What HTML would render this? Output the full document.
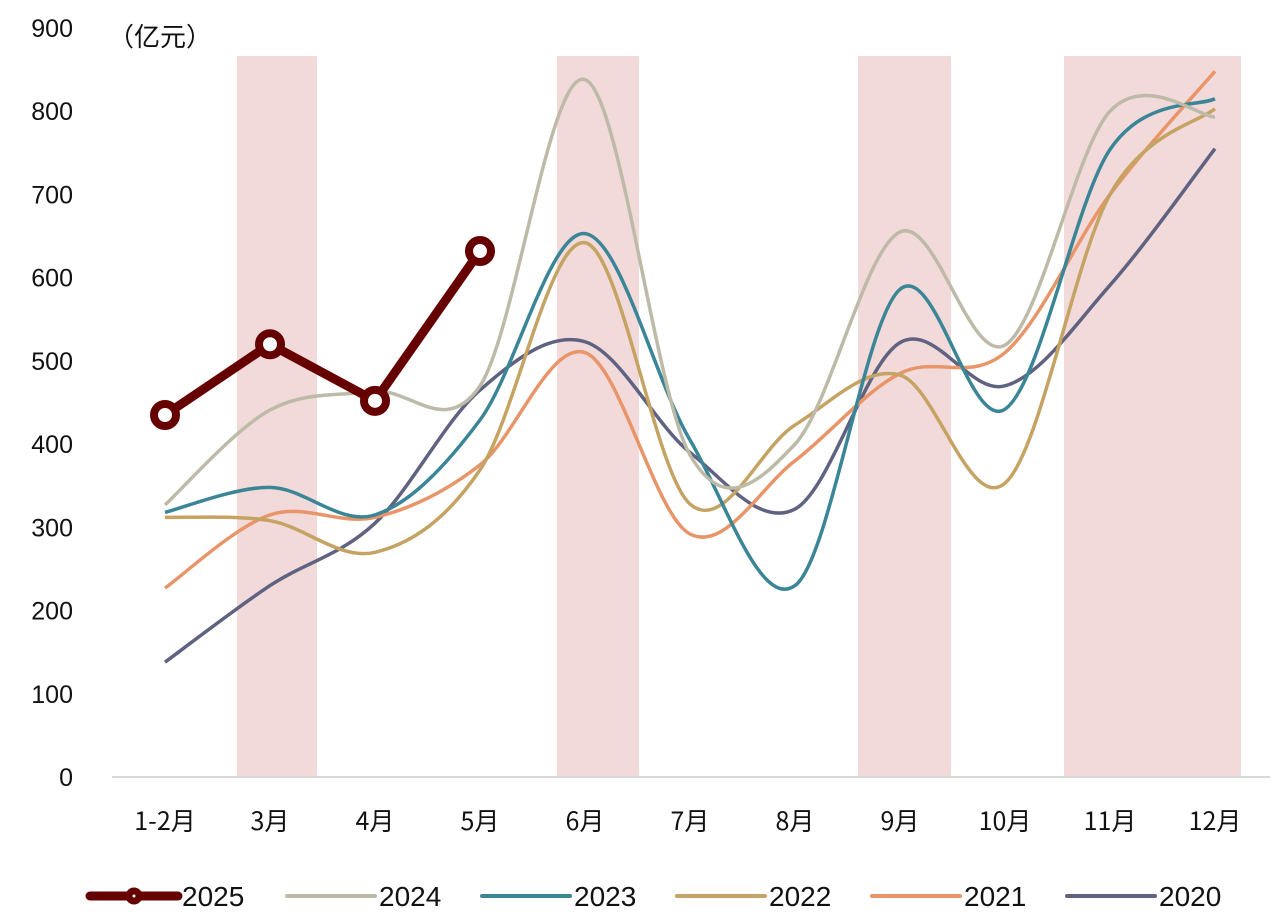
<!DOCTYPE html>
<html><head><meta charset="utf-8"><style>
body{margin:0;background:#fff;}
svg{display:block;font-family:"Liberation Sans","Noto Sans CJK SC",sans-serif;}
</style></head><body>
<svg id="c" width="1278" height="924"></svg>
<script>
const categories=["1-2月","3月","4月","5月","6月","7月","8月","9月","10月","11月","12月"];
const yTicks=[0,100,200,300,400,500,600,700,800,900];
const s2025=[435,520,452,632];
const s2024=[327,441,463,470,838,387,400,655,519,800,793];
const s2023=[318,348,315,429,653,405,230,586,442,754,815];
const s2022=[312,308,270,369,642,328,423,483,353,700,803];
const s2021=[227,315,312,375,510,292,380,485,510,700,848];
const s2020=[138,230,305,465,523,390,322,522,470,591,755];
const series=[
 {name:"2020",data:s2020,color:"#5f6280"},
 {name:"2021",data:s2021,color:"#e8956a"},
 {name:"2022",data:s2022,color:"#c4a363"},
 {name:"2023",data:s2023,color:"#3a8596"},
 {name:"2024",data:s2024,color:"#bdbaa8"}
];
const NS="http://www.w3.org/2000/svg";
const svg=document.getElementById('c');
const x=i=>165+i*105;
const y=v=>777-v*0.8322;
function el(t,a,p){const e=document.createElementNS(NS,t);for(const k in a)e.setAttribute(k,a[k]);(p||svg).appendChild(e);return e;}
[[237,80],[557,82],[858,93],[1064,177]].forEach(r=>{
 const b=el('rect',{x:r[0],y:56,width:r[1],height:721,fill:"#f2dada"});
 
 
});
const ax=el('line',{x1:112,x2:1270,y1:777,y2:777,stroke:"#d9d9d9","stroke-width":2});

yTicks.forEach(v=>{
 const t=el('text',{x:73,y:y(v)+9,"text-anchor":"end","font-size":25,fill:"#111"});t.textContent=v;
 
});
categories.forEach((c,i)=>{
 const t=el('text',{x:x(i),y:830,"text-anchor":"middle","font-size":25,fill:"#111","font-family":"'Noto Sans CJK SC',sans-serif"});t.textContent=c;
 
});
const u=el('text',{x:108,y:46,"font-size":26,fill:"#111","font-family":"'Noto Sans CJK SC',sans-serif"});u.textContent="（亿元）";

function smooth(d){
 const p=d.map((v,i)=>[x(i),y(v)]);let s=`M${p[0][0]},${p[0][1]}`;
 for(let i=0;i<p.length-1;i++){const p0=p[i-1]||p[i],p1=p[i],p2=p[i+1],p3=p[i+2]||p2;const k=1/6;
  s+=`C${p1[0]+(p2[0]-p0[0])*k},${p1[1]+(p2[1]-p0[1])*k} ${p2[0]-(p3[0]-p1[0])*k},${p2[1]-(p3[1]-p1[1])*k} ${p2[0]},${p2[1]}`;}
 return s;
}
series.forEach(s=>{
 const p=el('path',{d:smooth(s.data),fill:"none",stroke:s.color,"stroke-width":3.5});
 
});
const l25=el('polyline',{points:s2025.map((v,i)=>x(i)+','+y(v)).join(' '),fill:"none",stroke:"#660000","stroke-width":9,"stroke-linejoin":"round"});

s2025.forEach((v,i)=>{
 const c=el('circle',{cx:x(i),cy:y(v),r:11,fill:"#fff",stroke:"#660000","stroke-width":8});
 
});
const leg=[{n:"2025",c:"#660000",x:90},{n:"2024",c:"#bdbaa8",x:287},{n:"2023",c:"#3a8596",x:482},{n:"2022",c:"#c4a363",x:677},{n:"2021",c:"#e8956a",x:872},{n:"2020",c:"#5f6280",x:1067}];
leg.forEach((l,i)=>{
 const g=el('g',{});
 el('line',{x1:l.x,x2:l.x+88,y1:896,y2:896,stroke:l.c,"stroke-width":i?4:9,"stroke-linecap":"round"},g);
 if(!i)el('circle',{cx:l.x+44,cy:896,r:8,fill:l.c,stroke:l.c},g);
 if(!i)el('circle',{cx:l.x+44,cy:896,r:1.5,fill:"#fff"},g);
 const t=el('text',{x:l.x+92,y:906,"font-size":28,fill:"#111"},g);t.textContent=l.n;
});
</script>
</body></html>
